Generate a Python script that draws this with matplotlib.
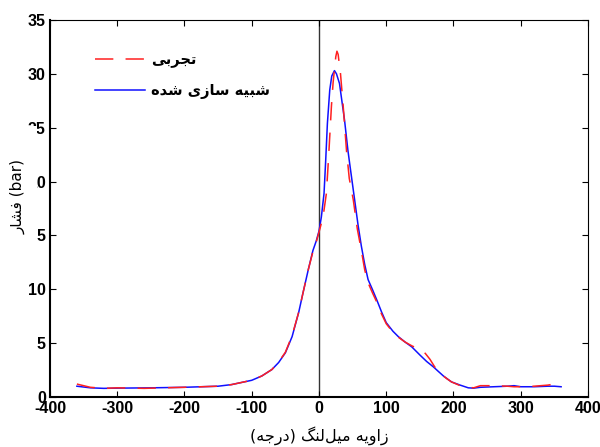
import matplotlib
matplotlib.use("Agg")
import matplotlib.pyplot as plt
from matplotlib.patches import Rectangle

plt.rcParams['axes.unicode_minus'] = False

# crank angle (deg) and pressure (bar)
sim_angle = [-360, -340, -320, -300, -250, -200, -150, -130, -100, -85, -70, -60, -50,
             -40, -30, -24, -16, -9, -4, 0, 3.5, 7.5, 10, 12.5, 16, 19, 23, 26, 30.5,
             34, 38, 43, 46, 53, 58, 63, 68, 73, 80, 86, 93, 100, 110, 118, 128, 138,
             150, 160, 170, 177, 185, 197, 210, 222, 230, 240, 260, 280, 290, 300,
             320, 340, 350, 360]
sim_pressure = [1.0, 0.85, 0.8, 0.82, 0.85, 0.9, 1.0, 1.15, 1.55, 1.95, 2.55, 3.2, 4.1,
                5.6, 7.9, 9.6, 11.8, 13.6, 14.5, 15.4, 16.7, 18.9, 22.0, 25.4, 28.5, 29.8,
                30.3, 30.0, 29.1, 27.5, 25.7, 22.9, 21.5, 18.3, 16.0, 14.0, 12.3,
                10.9, 9.9, 9.0, 7.9, 6.9, 6.1, 5.6, 5.1, 4.65, 3.9, 3.3, 2.8, 2.4, 1.95,
                1.4, 1.1, 0.85, 0.82, 0.9, 0.95, 1.0, 1.05, 0.95, 0.95, 1.0, 1.0, 0.95]

exp_angle = [-360, -350, -340, -320, -300, -260, -200, -150, -130, -100, -85, -70, -60,
             -50, -40, -30, -24, -16, -9, -4, 0, 6, 11, 14.5, 18.5, 21, 23.5, 25, 26.7,
             28.5, 30, 32, 36, 41, 45, 51, 57, 63, 68, 73, 80, 86, 93, 100, 110, 118,
             128, 138, 150, 158, 165, 172, 180, 190, 197, 210, 222, 230, 240, 260, 280,
             290, 300, 320, 340, 350, 360]
exp_pressure = [1.2, 1.05, 0.9, 0.8, 0.85, 0.8, 0.9, 1.0, 1.15, 1.55, 1.95, 2.55, 3.25,
                4.15, 5.7, 7.9, 9.6, 11.8, 13.5, 14.4, 15.3, 16.7, 18.9, 22.5, 27.0, 29.2,
                30.7, 31.6, 32.1, 31.8, 31.0, 30.0, 27.0, 22.8, 20.3, 18.3, 15.6, 13.6,
                11.8, 10.6, 9.6, 8.8, 7.7, 6.8, 6.0, 5.55, 5.1, 4.75, 4.4, 4.05, 3.5, 2.8,
                2.2, 1.7, 1.4, 1.05, 0.9, 0.85, 1.05, 1.05, 1.0, 0.95, 0.95, 1.0, 1.1,
                1.2, 1.0]

x_ticks = [-400, -300, -200, -100, 0, 100, 200, 300, 400]
y_ticks = [0, 5, 10, 15, 20, 25, 30, 35]

# Persian text as presentation forms in visual (left-to-right) order
lbl_exp = "\uFEF0\uFE91\uFEAE\uFEA0\uFE97"
lbl_sim = "\uFEE9\uFEAA\uFEB7 \uFEEF\uFEAF\uFE8E\uFEB3 \uFEEA\uFEF4\uFE92\uFEB7"
ylabel = "\uFEAD\uFE8E\uFEB8\uFED3 (bar)"
xlabel = ("(\uFEEA\uFE9F\uFEAD\uFEA9) \uFB93\uFEE8\uFEDF\uFEDE\uFEF4\uFEE3 "
          "\uFEEA\uFEF3\uFEED\uFE8D\uFEAF")

fig = plt.figure(figsize=(6, 4.47), dpi=100)
ax = fig.add_axes([0.0833, 0.1119, 0.8967, 0.8434])

ax.axvline(0, color='#333333', linewidth=1.0, zorder=1)
ax.plot(exp_angle, exp_pressure, color='#ff2020', linewidth=1.1,
        linestyle=(0, (12, 8)), label=lbl_exp, zorder=3)
ax.plot(sim_angle, sim_pressure, color='#1010ff', linewidth=1.1,
        label=lbl_sim, zorder=2)

ax.set_xlim(-400, 400)
ax.set_ylim(0, 35)
ax.set_xticks(x_ticks)
ax.set_yticks(y_ticks)
ax.tick_params(direction='in', top=True, right=True, length=4, width=0.8,
               labelsize=11.5, pad=3)
for lab in ax.get_xticklabels() + ax.get_yticklabels():
    lab.set_fontfamily('Liberation Sans')
    lab.set_fontweight('bold')
for side in ['left', 'bottom']:
    ax.spines[side].set_linewidth(1.5)
for side in ['top', 'right']:
    ax.spines[side].set_linewidth(0.8)

ax.set_xlabel(xlabel, fontsize=11.5, fontfamily='DejaVu Sans', labelpad=7)

leg = ax.legend(loc='upper left', bbox_to_anchor=(0.06, 0.95), frameon=False,
                handlelength=3.4, handletextpad=0.4, labelspacing=1.05,
                prop={'family': 'DejaVu Sans', 'weight': 'bold', 'size': 10.5})

# white box behind the y label hides part of the tick labels, as in the source
fig.add_artist(Rectangle((0.0, 0.452), 0.062, 0.266, transform=fig.transFigure,
                         facecolor='white', edgecolor='none', zorder=5))
fig.text(0.03, 0.56, ylabel, rotation=90, ha='center', va='center', fontsize=11,
         fontfamily='DejaVu Sans', zorder=6)

fig.savefig("out.png", dpi=100)
